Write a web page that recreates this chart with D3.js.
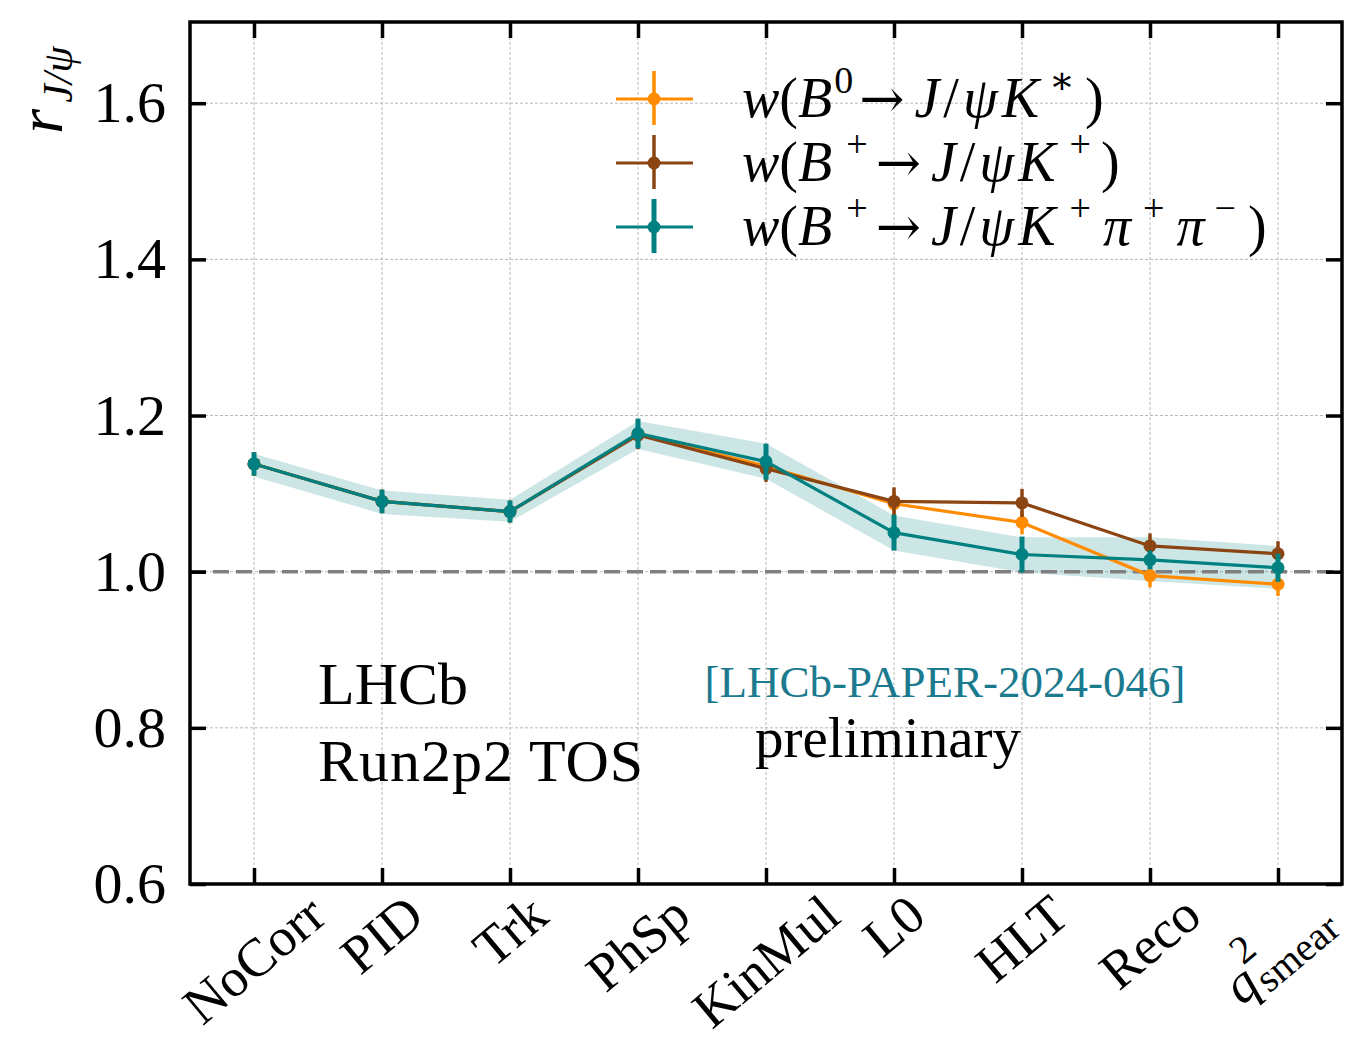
<!DOCTYPE html>
<html>
<head>
<meta charset="utf-8">
<script src="https://cdn.jsdelivr.net/npm/d3@7"></script>
<style>
  body { margin: 0; background: #fff; }
  text { font-family: "Liberation Serif", "DejaVu Serif", serif; }
</style>
</head>
<body>
<div id="wrapper"></div>
<script>

// 1. data
const steps = ["NoCorr", "PID", "Trk", "PhSp", "KinMul", "L0", "HLT", "Reco", "q2"]
const yTicks = [0.6, 0.8, 1.0, 1.2, 1.4, 1.6]

const orangeVal = [1.138, 1.090, 1.077, 1.176, 1.135, 1.087, 1.063, 0.995, 0.984]
const orangeErr = [0.015, 0.015, 0.014, 0.018, 0.016, 0.015, 0.015, 0.015, 0.015]
const brownVal  = [1.138, 1.090, 1.077, 1.175, 1.132, 1.090, 1.088, 1.033, 1.023]
const brownErr  = [0.015, 0.015, 0.014, 0.018, 0.017, 0.018, 0.018, 0.016, 0.016]
const tealVal   = [1.138, 1.090, 1.077, 1.177, 1.141, 1.050, 1.022, 1.015, 1.005]
const tealErr   = [0.015, 0.015, 0.014, 0.019, 0.023, 0.023, 0.023, 0.012, 0.018]
const bandLow   = [1.122, 1.074, 1.064, 1.157, 1.119, 1.027, 0.999, 0.988, 0.978]
const bandHigh  = [1.151, 1.104, 1.092, 1.193, 1.164, 1.072, 1.044, 1.044, 1.033]

const series = [
  {name: "orange", color: "#ff8c00", vals: orangeVal, errs: orangeErr, ew: 3.5},
  {name: "brown",  color: "#8b4513", vals: brownVal,  errs: brownErr,  ew: 3.5},
  {name: "teal",   color: "#008080", vals: tealVal,   errs: tealErr,   ew: 5},
]

// 2. dims
let dims = {
  width: 1349,
  height: 1043,
  margin: {top: 22, right: 7, bottom: 159, left: 190}
}
dims.boundedWidth = dims.width - dims.margin.left - dims.margin.right
dims.boundedHeight = dims.height - dims.margin.top - dims.margin.bottom

// 3. canvas
const wrapper = d3.select("#wrapper")
  .append("svg")
  .attr("width", dims.width)
  .attr("height", dims.height)

const bounds = wrapper.append("g")
  .attr("transform", `translate(${dims.margin.left},${dims.margin.top})`)

// 4. scales
const xScale = d3.scaleLinear()
  .domain([-0.5, steps.length - 0.5])
  .range([0, dims.boundedWidth])

const yScale = d3.scaleLinear()
  .domain([0.6, 1.704])
  .range([dims.boundedHeight, 0])

// grid
bounds.append("g").selectAll("line")
  .data(steps.map((d, i) => i))
  .join("line")
  .attr("x1", d => xScale(d)).attr("x2", d => xScale(d))
  .attr("y1", 0).attr("y2", dims.boundedHeight)
  .attr("stroke", "#b8b8b8").attr("stroke-width", 1).attr("stroke-dasharray", "3,2")

bounds.append("g").selectAll("line")
  .data(yTicks)
  .join("line")
  .attr("x1", 0).attr("x2", dims.boundedWidth)
  .attr("y1", d => yScale(d)).attr("y2", d => yScale(d))
  .attr("stroke", "#b8b8b8").attr("stroke-width", 1).attr("stroke-dasharray", "3,2")

// 5. band
const band = d3.area()
  .x((d, i) => xScale(i))
  .y0((d, i) => yScale(bandLow[i]))
  .y1((d, i) => yScale(bandHigh[i]))

bounds.append("path")
  .datum(steps)
  .attr("d", band)
  .attr("fill", "#008080")
  .attr("fill-opacity", 0.2)

// reference line
bounds.append("line")
  .attr("x1", 0).attr("x2", dims.boundedWidth)
  .attr("y1", yScale(1.0)).attr("y2", yScale(1.0))
  .attr("stroke", "#808080").attr("stroke-width", 3.5)
  .attr("stroke-dasharray", "16,7")

// series
const line = d3.line()
  .x((d, i) => xScale(i))
  .y(d => yScale(d))

series.forEach(s => {
  const g = bounds.append("g")
  g.append("path")
    .datum(s.vals)
    .attr("d", line)
    .attr("fill", "none")
    .attr("stroke", s.color)
    .attr("stroke-width", 3.2)
  g.selectAll("line.err")
    .data(s.vals)
    .join("line")
    .attr("class", "err")
    .attr("x1", (d, i) => xScale(i)).attr("x2", (d, i) => xScale(i))
    .attr("y1", (d, i) => yScale(d - s.errs[i]))
    .attr("y2", (d, i) => yScale(d + s.errs[i]))
    .attr("stroke", s.color)
    .attr("stroke-width", s.ew)
  g.selectAll("circle")
    .data(s.vals)
    .join("circle")
    .attr("cx", (d, i) => xScale(i))
    .attr("cy", d => yScale(d))
    .attr("r", 6.5)
    .attr("fill", s.color)
})

// axes: inward ticks on all sides
const tickLen = 16
const xAxisBottom = d3.axisBottom(xScale)
  .tickValues(steps.map((d, i) => i))
  .tickSizeInner(-tickLen).tickSizeOuter(0).tickFormat("")
const xAxisTop = d3.axisTop(xScale)
  .tickValues(steps.map((d, i) => i))
  .tickSizeInner(-tickLen).tickSizeOuter(0).tickFormat("")
const yAxisLeft = d3.axisLeft(yScale)
  .tickValues(yTicks)
  .tickSizeInner(-tickLen).tickSizeOuter(0)
  .tickPadding(24)
  .tickFormat(d3.format(".1f"))
const yAxisRight = d3.axisRight(yScale)
  .tickValues(yTicks)
  .tickSizeInner(-tickLen).tickSizeOuter(0).tickFormat("")

const axes = [
  bounds.append("g").attr("transform", `translate(0,${dims.boundedHeight})`).call(xAxisBottom),
  bounds.append("g").call(xAxisTop),
  bounds.append("g").call(yAxisLeft),
  bounds.append("g").attr("transform", `translate(${dims.boundedWidth},0)`).call(yAxisRight),
]
axes.forEach(a => {
  a.select(".domain").remove()
  a.selectAll(".tick line").attr("stroke", "#000").attr("stroke-width", 3.5)
})
axes[2].selectAll(".tick text")
  .style("font-size", "58px")
  .attr("fill", "#000")
  .attr("font-family", "Liberation Serif")

// frame
bounds.append("rect")
  .attr("width", dims.boundedWidth)
  .attr("height", dims.boundedHeight)
  .attr("fill", "none")
  .attr("stroke", "#000")
  .attr("stroke-width", 3.5)

// x tick labels, rotated 40deg, centered on tick
const angle = 40
const rad = angle * Math.PI / 180
const labelTop = dims.boundedHeight + 8
steps.forEach((d, i) => {
  const t = bounds.append("text")
    .attr("text-anchor", "middle")
    .attr("dominant-baseline", "central")
    .style("font-size", "54px")
    .attr("fill", "#000")
  if (d === "q2") {
    t.append("tspan").style("font-style", "italic").text("q")
    t.append("tspan").attr("dy", -26).style("font-size", "40px").text("2")
    t.append("tspan").attr("dx", -18).attr("dy", 38).style("font-size", "40px").text("smear")
    t.append("tspan").attr("dy", -12).text("")
  } else {
    t.text(d)
  }
  const len = t.node().getComputedTextLength()
  const h = len * Math.sin(rad) + 38 * Math.cos(rad)
  const cx = xScale(i)
  const cy = labelTop + h / 2
  t.attr("x", cx).attr("y", cy)
    .attr("transform", `rotate(${-angle},${cx},${cy})`)
})

// y label
const ylab = wrapper.append("text")
  .attr("transform", "translate(62,90) rotate(-90)")
  .attr("text-anchor", "middle")
  .style("font-size", "64px")
  .attr("fill", "#000")
ylab.append("tspan").style("font-style", "italic").text("r")
ylab.append("tspan").attr("dy", 10).attr("dx", 6).style("font-size", "42px").style("font-style", "italic").text("J/ψ")

// legend
const legend = wrapper.append("g")
const legendRows = [
  {color: "#ff8c00", ew: 3.5, parts: [["w", "i"], ["(", "n"], ["B", "i"], ["0", "sup", 2], ["→", "arr", 6], ["J", "i", 10], ["/", "n", 4], ["ψ", "i", 4], ["K", "i", 4], ["∗", "sup", 10], [")", "n", 10]]},
  {color: "#8b4513", ew: 3.5, parts: [["w", "i"], ["(", "n"], ["B", "i"], ["+", "sup", 14], ["→", "arr", 8], ["J", "i", 10], ["/", "n", 4], ["ψ", "i", 4], ["K", "i", 4], ["+", "sup", 14], [")", "n", 10]]},
  {color: "#008080", ew: 5, parts: [["w", "i"], ["(", "n"], ["B", "i"], ["+", "sup", 14], ["→", "arr", 8], ["J", "i", 10], ["/", "n", 4], ["ψ", "i", 4], ["K", "i", 4], ["+", "sup", 14], ["π", "i", 12], ["+", "sup", 12], ["π", "i", 12], ["−", "sup", 10], [")", "n", 12]]},
]
legendRows.forEach((r, k) => {
  const y = 99 + k * 64
  legend.append("line").attr("x1", 616).attr("x2", 693).attr("y1", y).attr("y2", y)
    .attr("stroke", r.color).attr("stroke-width", 3.2)
  legend.append("line").attr("x1", 654).attr("x2", 654).attr("y1", y - 28).attr("y2", y + 26)
    .attr("stroke", r.color).attr("stroke-width", r.ew)
  legend.append("circle").attr("cx", 654).attr("cy", y).attr("r", 6.5).attr("fill", r.color)
  const t = legend.append("text").attr("x", 742).attr("y", y + 18)
    .style("font-size", "56px").attr("fill", "#000")
  let sup = false
  r.parts.forEach(([s, kind, dx]) => {
    const ts = t.append("tspan").text(s)
    if (dx) ts.attr("dx", dx)
    if (kind === "sup") {
      ts.style("font-size", "38px").attr("dy", -24)
      sup = true
    } else {
      if (sup) { ts.attr("dy", 24); sup = false }
      if (kind === "i") ts.style("font-style", "italic")
      if (kind === "arr") ts.attr("font-family", "DejaVu Serif").style("font-size", "54px")
    }
  })
})

// annotations
wrapper.append("text").attr("x", 318).attr("y", 704)
  .style("font-size", "60px").attr("fill", "#000").text("LHCb")
wrapper.append("text").attr("x", 318).attr("y", 781)
  .style("font-size", "60px").style("letter-spacing", "1px").attr("fill", "#000").text("Run2p2 TOS")
wrapper.append("text").attr("x", 945).attr("y", 697).attr("text-anchor", "middle")
  .style("font-size", "45px").attr("fill", "#1b7a8e").text("[LHCb-PAPER-2024-046]")
wrapper.append("text").attr("x", 888).attr("y", 757).attr("text-anchor", "middle")
  .style("font-size", "57px").attr("fill", "#000").text("preliminary")

</script>
</body>
</html>
